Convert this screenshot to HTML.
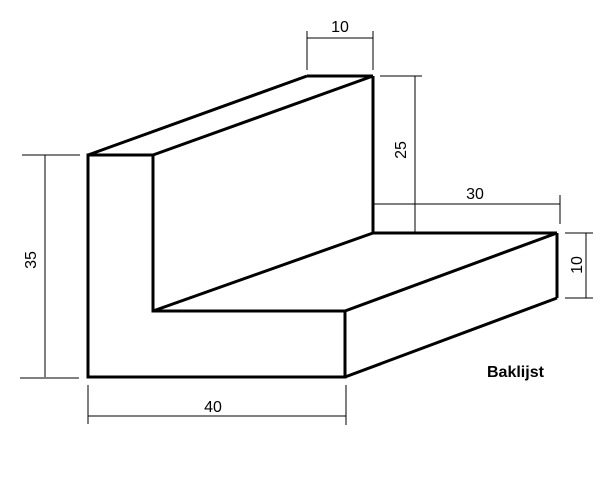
<!DOCTYPE html>
<html><head><meta charset="utf-8"><style>
html,body{margin:0;padding:0;background:#fff;}
svg{display:block;}
text{font-family:"Liberation Sans",sans-serif;font-size:16px;fill:#000;}
</style></head><body>
<svg width="600" height="485" viewBox="0 0 600 485" xmlns="http://www.w3.org/2000/svg">
<g stroke="#000" stroke-width="3" fill="none" stroke-linejoin="miter">
<polygon points="88,155 153,155 153,311 345,311 345,377 88,377"/>
<line x1="88" y1="155" x2="307" y2="76"/>
<line x1="153" y1="155" x2="373" y2="76"/>
<line x1="307" y1="76" x2="373" y2="76"/>
<line x1="373" y1="76" x2="373" y2="233"/>
<line x1="373" y1="233" x2="557" y2="233"/>
<line x1="557" y1="233" x2="557" y2="298"/>
<line x1="557" y1="298" x2="345" y2="377"/>
<line x1="345" y1="311" x2="557" y2="233"/>
<line x1="153" y1="311" x2="373" y2="233"/>
</g>
<g stroke="#000" stroke-width="1" fill="none">
<line x1="307" y1="38" x2="373" y2="38"/>
<line x1="307" y1="31" x2="307" y2="70"/>
<line x1="373" y1="31" x2="373" y2="70"/>
<line x1="415" y1="76" x2="415" y2="232"/>
<line x1="380" y1="76" x2="422" y2="76"/>
<line x1="373" y1="204" x2="560" y2="204"/>
<line x1="560" y1="195" x2="560" y2="224"/>
<line x1="586" y1="233" x2="586" y2="298"/>
<line x1="565" y1="233" x2="593" y2="233"/>
<line x1="565" y1="298" x2="593" y2="298"/>
<line x1="45" y1="155" x2="45" y2="377"/>
<line x1="22" y1="155" x2="80" y2="155"/>
<line x1="20" y1="378" x2="79" y2="378"/>
<line x1="88" y1="416" x2="346" y2="416"/>
<line x1="88" y1="385" x2="88" y2="424"/>
<line x1="346" y1="385" x2="346" y2="425"/>
</g>
<text x="340" y="32" text-anchor="middle">10</text>
<text x="475" y="199" text-anchor="middle">30</text>
<text x="213" y="412" text-anchor="middle">40</text>
<text transform="translate(406,150) rotate(-90)" text-anchor="middle">25</text>
<text transform="translate(582,265) rotate(-90)" text-anchor="middle">10</text>
<text transform="translate(36,260) rotate(-90)" text-anchor="middle">35</text>
<text x="487" y="377" style="font-weight:bold">Baklijst</text>
</svg>
</body></html>
